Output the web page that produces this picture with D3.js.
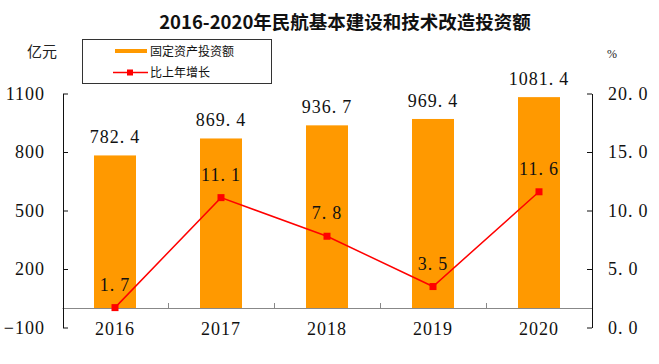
<!DOCTYPE html>
<html>
<head>
<meta charset="utf-8">
<script src="https://cdn.jsdelivr.net/npm/d3@7"></script>
<style>
  body { margin: 0; background: #fff; }
  svg { display: block; }
  .num { font-family: "Liberation Serif", "DejaVu Serif", serif; font-size: 18px; letter-spacing: 1px; fill: #111; }
</style>
</head>
<body>
<div class="chart"></div>
<script>
const years = ["2016", "2017", "2018", "2019", "2020"];
const investment = [782.4, 869.4, 936.7, 969.4, 1081.4];
const growth = [1.7, 11.1, 7.8, 3.5, 11.6];
const leftTicks = [-100, 200, 500, 800, 1100];
const rightTicks = [0, 5, 10, 15, 20];

const width = 659;
const height = 364;

const svg = d3.select(".chart")
  .append("svg")
  .attr("width", width)
  .attr("height", height);

// scales
const xScale = d3.scaleBand().domain(years).range([62, 592]).padding(0);
const yLeft = d3.scaleLinear().domain([-100, 1100]).range([327.5, 93.5]);
const yRight = d3.scaleLinear().domain([0, 20]).range([327.5, 93.5]);
const barWidth = 42;

// write a number with a little gap after the decimal point
function numText(sel) {
  sel.each(function(d) {
    const t = d3.select(this);
    const s = t.text();
    t.text(null);
    const parts = s.split(".");
    if (parts.length === 1) { t.append("tspan").text(s); return; }
    t.append("tspan").text(parts[0] + ".");
    t.append("tspan").attr("dx", 5).text(parts[1]);
  });
}

// title
svg.append("text")
  .attr("x", 345)
  .attr("y", 29)
  .attr("text-anchor", "middle")
  .style("font-family", "'Noto Sans CJK SC', sans-serif")
  .style("font-weight", "bold")
  .style("font-size", "18.5px")
  .style("fill", "#111")
  .text("2016-2020年民航基本建设和技术改造投资额");

// unit labels
svg.append("text")
  .attr("x", 42).attr("y", 57)
  .attr("text-anchor", "middle")
  .style("font-family", "'Noto Sans CJK SC', sans-serif")
  .style("font-size", "15px")
  .style("fill", "#222")
  .text("亿元");

svg.append("text")
  .attr("x", 612).attr("y", 58)
  .attr("text-anchor", "middle")
  .style("font-family", "'Liberation Serif', serif")
  .style("font-size", "12px")
  .style("fill", "#222")
  .text("%");

// bars
svg.selectAll(".bar")
  .data(investment)
  .enter()
  .append("rect")
  .attr("class", "bar")
  .attr("x", (d, i) => xScale(years[i]) + (xScale.bandwidth() - barWidth) / 2)
  .attr("y", d => yLeft(d))
  .attr("width", barWidth)
  .attr("height", d => yLeft(0) - yLeft(d))
  .attr("fill", "#ff9900");

// bottom axis (zero line of left scale)
const xAxis = d3.axisBottom(xScale).tickSize(0).tickPadding(14);
const gx = svg.append("g")
  .attr("transform", `translate(0, ${Math.round(yLeft(0))})`)
  .call(xAxis);
gx.select(".domain").attr("stroke", "#888");
gx.selectAll("text").attr("class", "num");
gx.attr("font-size", null).attr("font-family", null);

// category boundary ticks
svg.selectAll(".cat-tick")
  .data(years.slice(1))
  .enter()
  .append("line")
  .attr("x1", d => Math.round(xScale(d)) + 0.5)
  .attr("x2", d => Math.round(xScale(d)) + 0.5)
  .attr("y1", Math.round(yLeft(0)))
  .attr("y2", Math.round(yLeft(0)) - 5)
  .attr("stroke", "#888");

// left axis
const gl = svg.append("g")
  .attr("transform", "translate(63, 0)")
  .call(d3.axisLeft(yLeft).tickValues(leftTicks).tickFormat(d3.format("d"))
    .tickSizeInner(-5).tickSizeOuter(0).tickPadding(18));
gl.attr("font-size", null).attr("font-family", null);
gl.selectAll("text").attr("class", "num");
gl.selectAll("line, path").attr("stroke", "#111");

// right axis
const gr = svg.append("g")
  .attr("transform", "translate(592, 0)")
  .call(d3.axisRight(yRight).tickValues(rightTicks).tickFormat(d3.format(".1f"))
    .tickSizeInner(-5).tickSizeOuter(0).tickPadding(16));
gr.attr("font-size", null).attr("font-family", null);
gr.selectAll("text").attr("class", "num").call(numText);
gr.selectAll("line, path").attr("stroke", "#111");

// bar value labels
svg.selectAll(".bar-label")
  .data(investment)
  .enter()
  .append("text")
  .attr("class", "num")
  .attr("x", (d, i) => xScale(years[i]) + xScale.bandwidth() / 2)
  .attr("y", d => yLeft(d) - 12)
  .attr("text-anchor", "middle")
  .text(d => d3.format(".1f")(d))
  .call(numText);

// growth line
const line = d3.line()
  .x((d, i) => xScale(years[i]) + xScale.bandwidth() / 2)
  .y(d => yRight(d));

svg.append("path")
  .datum(growth)
  .attr("d", line)
  .attr("fill", "none")
  .attr("stroke", "#ff0000")
  .attr("stroke-width", 1.5);

svg.selectAll(".marker")
  .data(growth)
  .enter()
  .append("rect")
  .attr("x", (d, i) => xScale(years[i]) + xScale.bandwidth() / 2 - 3.5)
  .attr("y", d => yRight(d) - 3.5)
  .attr("width", 7)
  .attr("height", 7)
  .attr("fill", "#ff0000");

svg.selectAll(".growth-label")
  .data(growth)
  .enter()
  .append("text")
  .attr("class", "num")
  .attr("x", (d, i) => xScale(years[i]) + xScale.bandwidth() / 2)
  .attr("y", d => yRight(d) - 17)
  .attr("text-anchor", "middle")
  .text(d => d3.format(".1f")(d))
  .call(numText);

// legend
const legend = svg.append("g");
legend.append("rect")
  .attr("x", 82.5).attr("y", 39.5)
  .attr("width", 189).attr("height", 44)
  .attr("fill", "#fff")
  .attr("stroke", "#333");

legend.append("line")
  .attr("x1", 115).attr("x2", 147)
  .attr("y1", 51).attr("y2", 51)
  .attr("stroke", "#ff9900")
  .attr("stroke-width", 4);

legend.append("line")
  .attr("x1", 113).attr("x2", 148)
  .attr("y1", 72.5).attr("y2", 72.5)
  .attr("stroke", "#ff0000")
  .attr("stroke-width", 1.5);

legend.append("rect")
  .attr("x", 127).attr("y", 69.5)
  .attr("width", 6).attr("height", 6)
  .attr("fill", "#ff0000");

legend.selectAll(".legend-text")
  .data(["固定资产投资额", "比上年增长"])
  .enter()
  .append("text")
  .attr("x", 150)
  .attr("y", (d, i) => 55.5 + i * 21.5)
  .style("font-family", "'Noto Sans CJK SC', sans-serif")
  .style("font-size", "12px")
  .style("fill", "#111")
  .text(d => d);
</script>
</body>
</html>
